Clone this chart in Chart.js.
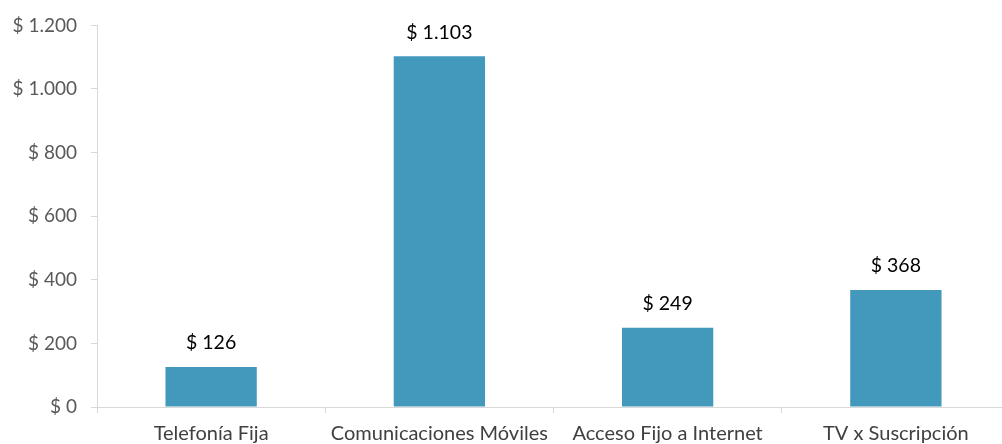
<!DOCTYPE html>
<html>
<head>
<meta charset="utf-8">
<script src="https://cdn.jsdelivr.net/npm/chart.js@4.4.0/dist/chart.umd.min.js"></script>
<style>
html,body{margin:0;padding:0;background:#fff;overflow:hidden;}
#wrap{width:1010px;height:444px;position:relative;}
</style>
</head>
<body>
<div id="wrap"><canvas id="c"></canvas></div>
<script>
const categories = ["Telefonía Fija", "Comunicaciones Móviles", "Acceso Fijo a Internet", "TV x Suscripción"];
const values = [126, 1103, 249, 368];
const yTicks = [0, 200, 400, 600, 800, 1000, 1200];

function fmt(v){
  return "$ " + String(v).replace(/\B(?=(\d{3})+(?!\d))/g, ".");
}

const FONT = "Lato, 'Open Sans', sans-serif";

const labelPlugin = {
  id: "barLabels",
  afterDatasetsDraw(chart){
    const ctx = chart.ctx;
    const meta = chart.getDatasetMeta(0);
    ctx.save();
    ctx.font = "19.5px " + FONT;
    ctx.fillStyle = "#000000";
    ctx.textAlign = "center";
    ctx.textBaseline = "middle";
    meta.data.forEach((bar, i) => {
      ctx.fillText(fmt(values[i]), bar.x, bar.y - 24);
    });
    ctx.restore();
  }
};

new Chart(document.getElementById("c"), {
  type: "bar",
  data: {
    labels: categories,
    datasets: [{
      data: values,
      backgroundColor: "#4299BC",
      barPercentage: 0.40,
      categoryPercentage: 1.0
    }]
  },
  options: {
    responsive: true,
    maintainAspectRatio: false,
    animation: false,
    layout: { padding: { top: 25, right: 0, bottom: 0, left: 0 } },
    plugins: { legend: { display: false }, tooltip: { enabled: false } },
    scales: {
      y: {
        min: 0, max: 1200,
        afterBuildTicks(s){ s.ticks = yTicks.map(v => ({value: v})); },
        afterFit(s){ s.width = 97; },
        ticks: {
          callback: v => fmt(v),
          color: "#595959",
          font: { family: FONT, size: 19 },
          padding: 14
        },
        grid: { display: true, drawOnChartArea: false, drawTicks: true, tickLength: 6, color: "#D9D9D9", lineWidth: 1 },
        border: { display: true, color: "#D9D9D9", width: 1 }
      },
      x: {
        afterFit(s){ s.height = 37; },
        ticks: {
          color: "#404040",
          font: { family: FONT, size: 20 },
          padding: 9,
          maxRotation: 0, autoSkip: false
        },
        grid: { display: true, offset: true, drawOnChartArea: false, drawTicks: true, tickLength: 6, color: "#D9D9D9", lineWidth: 1 },
        border: { display: true, color: "#D9D9D9", width: 1 }
      }
    }
  },
  plugins: [labelPlugin]
});
</script>
</body>
</html>
